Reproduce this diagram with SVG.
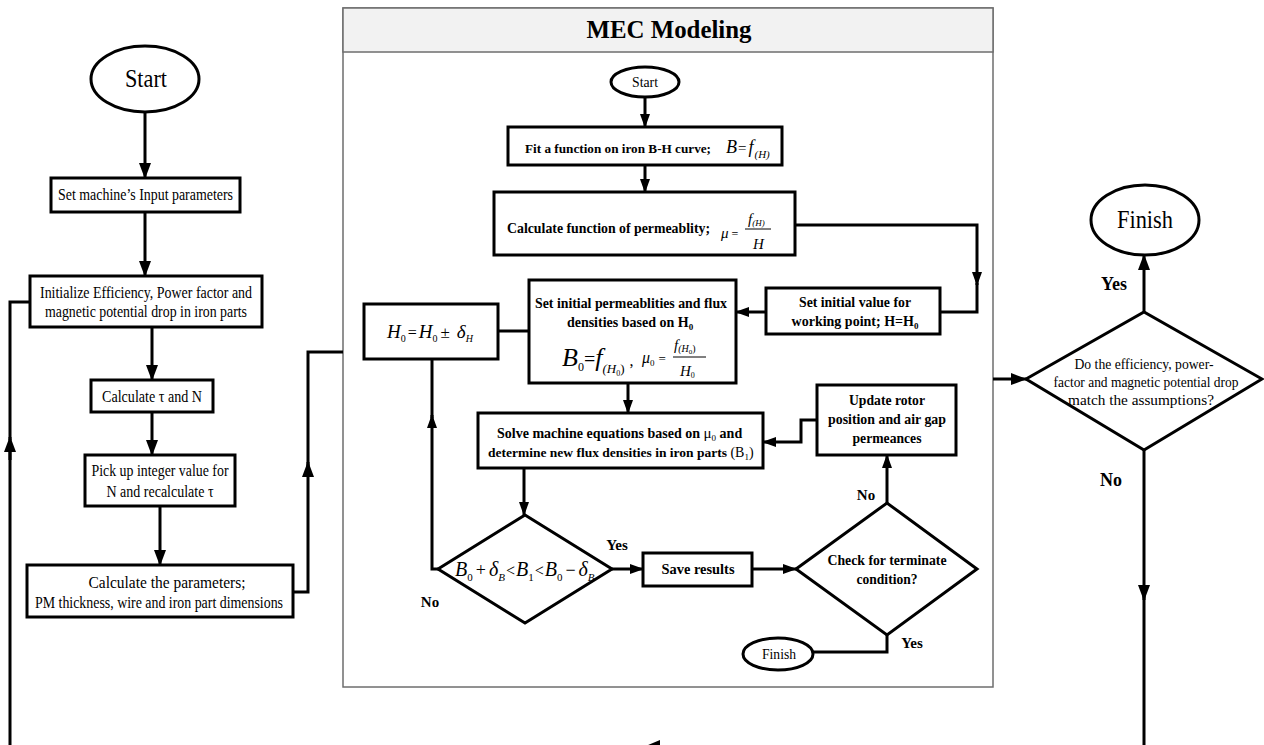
<svg xmlns="http://www.w3.org/2000/svg" width="1264" height="745" viewBox="0 0 1264 745">
<style>
.box{fill:#fff;stroke:#000;stroke-width:3}
.ln{fill:none;stroke:#000;stroke-width:3}
.ar{fill:none;stroke:#000;stroke-width:3;marker-end:url(#ah)}
.as{fill:none;stroke:#000;stroke-width:3;marker-end:url(#ahs)}
.t{font-family:"Liberation Serif","Times New Roman",serif;fill:#000}
.c{text-anchor:middle}
.b{font-weight:bold}
.i{font-style:italic}
.n{font-style:normal;font-weight:normal}
.frac{stroke:#000;stroke-width:1}
</style>
<defs>
<marker id="ah" viewBox="0 0 16 12" refX="15" refY="6" markerWidth="16" markerHeight="12" markerUnits="userSpaceOnUse" orient="auto"><path d="M0,0 L16,6 L0,12 z" fill="#000"/></marker>
<marker id="ahs" viewBox="0 0 14 10" refX="13" refY="5" markerWidth="14" markerHeight="10" markerUnits="userSpaceOnUse" orient="auto"><path d="M0,0 L14,5 L0,10 z" fill="#000"/></marker>
</defs>
<rect width="1264" height="745" fill="#fff"/>

<g id="mec-frame">
<rect x="343" y="8" width="650" height="679" fill="#fff" stroke="#6e6e6e" stroke-width="1.5"/>
<rect x="343" y="8" width="650" height="44" fill="#f2f2f2" stroke="#6e6e6e" stroke-width="1.5"/>
<text class="t b c" x="669" y="38" font-size="25" textLength="165" lengthAdjust="spacingAndGlyphs">MEC Modeling</text>
</g>

<g id="connectors">
<path class="ar" d="M145,112 V178"/>
<path class="ar" d="M145,212 V276"/>
<path class="ar" d="M152,327 V380"/>
<path class="ar" d="M152,412 V455"/>
<path class="ar" d="M160,506 V565"/>
<path class="ar" d="M293,592 H308 V462"/>
<path class="ln" d="M308,466 V352 H343"/>
<path class="ar" d="M1144,450 V600"/>
<path class="ln" d="M1144,596 V748 H655"/>
<polygon points="641,748 660,740 660,756" fill="#000"/>
<path class="ln" d="M655,748 H10 V445"/>
<path class="ar" d="M10,460 V437"/>
<path class="ln" d="M10,440 V302 H30"/>
<path class="ar" d="M993,379 H1026"/>
<path class="ar" d="M1144,312 V255"/>

<path class="as" d="M645,97 V127"/>
<path class="as" d="M645,165 V192"/>
<path class="as" d="M795,225 H977 V285"/>
<path class="ln" d="M977,283 V312 H940"/>
<path class="as" d="M766,312 H736"/>
<path class="ln" d="M498,331 H529"/>
<path class="as" d="M628,383 V413"/>
<path class="as" d="M524,468 V515"/>
<path class="as" d="M612,569 H643"/>
<path class="as" d="M752,569 H796"/>
<path class="as" d="M887,503 V455"/>
<path class="as" d="M817,420 H801 V442 H763"/>
<path class="ln" d="M887,635 V652 H813"/>
<path class="as" d="M438,569 H432 V415"/>
<path class="ln" d="M432,418 V359"/>
</g>

<g id="start-main">
<ellipse class="box" cx="145" cy="79" rx="54" ry="33"/>
<text class="t c" x="146" y="87" font-size="25" textLength="42" lengthAdjust="spacingAndGlyphs">Start</text>
</g>
<g id="set-input">
<rect class="box" x="51" y="178" width="189" height="34"/>
<text class="t c" x="145.5" y="200" font-size="16" textLength="175" lengthAdjust="spacingAndGlyphs">Set machine’s Input parameters</text>
</g>
<g id="initialize">
<rect class="box" x="30" y="276" width="232" height="51"/>
<text class="t c" x="146" y="298" font-size="16" textLength="212" lengthAdjust="spacingAndGlyphs">Initialize Efficiency, Power factor and</text>
<text class="t c" x="146" y="317" font-size="16" textLength="202" lengthAdjust="spacingAndGlyphs">magnetic potential drop in iron parts</text>
</g>
<g id="calc-tau">
<rect class="box" x="91" y="380" width="122" height="32"/>
<text class="t c" x="152" y="402" font-size="16" textLength="100" lengthAdjust="spacingAndGlyphs">Calculate τ and N</text>
</g>
<g id="pick-n">
<rect class="box" x="85" y="455" width="150" height="51"/>
<text class="t c" x="160" y="476" font-size="16" textLength="137" lengthAdjust="spacingAndGlyphs">Pick up integer value for</text>
<text class="t c" x="160" y="497" font-size="16" textLength="107" lengthAdjust="spacingAndGlyphs">N and recalculate τ</text>
</g>
<g id="calc-params">
<rect class="box" x="27" y="565" width="266" height="52"/>
<text class="t c" x="167" y="588" font-size="16" textLength="157" lengthAdjust="spacingAndGlyphs">Calculate the parameters;</text>
<text class="t c" x="159" y="608" font-size="16" textLength="248" lengthAdjust="spacingAndGlyphs">PM thickness, wire and iron part dimensions</text>
</g>

<g id="mec-start">
<ellipse class="box" cx="645" cy="82" rx="34" ry="15"/>
<text class="t c" x="645" y="87" font-size="15" textLength="26" lengthAdjust="spacingAndGlyphs">Start</text>
</g>
<g id="fit">
<rect class="box" x="508" y="127" width="274" height="38"/>
<text class="t b" x="525" y="153" font-size="13.5" textLength="186" lengthAdjust="spacingAndGlyphs">Fit a function on iron B-H curve;</text>
<text class="t i" x="726" y="153" font-size="18"><tspan>B</tspan><tspan class="n" font-size="15" dx="1">=</tspan><tspan dx="2">f</tspan><tspan font-size="11" dy="5" dx="1">(H)</tspan></text>
</g>
<g id="calc-func">
<rect class="box" x="494" y="192" width="301" height="63"/>
<text class="t b" x="507" y="233" font-size="14" textLength="203" lengthAdjust="spacingAndGlyphs">Calculate function of permeablity;</text>
<text class="t i" x="721" y="238" font-size="15">μ<tspan class="n" font-size="12" dx="3">=</tspan></text>
<text class="t i" x="748" y="224" font-size="15">f<tspan font-size="9" dy="2">(H)</tspan></text>
<text class="t i" x="753" y="249" font-size="15">H</text>
<line class="frac" x1="745" y1="229" x2="771" y2="229"/>
</g>
<g id="set-value">
<rect class="box" x="766" y="288" width="174" height="46"/>
<text class="t b c" x="855" y="307" font-size="15" textLength="112" lengthAdjust="spacingAndGlyphs">Set initial value for</text>
<text class="t b c" x="855" y="326" font-size="14">working point; H=H<tspan font-size="9" dy="3">0</tspan></text>
</g>
<g id="set-perm">
<rect class="box" x="529" y="280" width="207" height="103"/>
<text class="t b c" x="631" y="308" font-size="15" textLength="192" lengthAdjust="spacingAndGlyphs">Set initial permeablities and flux</text>
<text class="t b c" x="630" y="327" font-size="14">densities based on H<tspan font-size="9" dy="3">0</tspan></text>
<text class="t i" x="562" y="366" font-size="26"><tspan>B</tspan><tspan class="n" font-size="12" dy="5">0</tspan><tspan class="n" font-size="20" dy="-5">=</tspan><tspan>f</tspan><tspan font-size="13" dy="7">(H</tspan><tspan class="n" font-size="8" dy="3">0</tspan><tspan class="n" font-size="13" dy="-3">)</tspan><tspan class="n" font-size="16" dy="-7" dx="5">,</tspan></text>
<text class="t i" x="642" y="363" font-size="16"><tspan>μ</tspan><tspan class="n" font-size="9" dy="3">0</tspan><tspan class="n" font-size="13" dy="-3" dx="4">=</tspan></text>
<text class="t i" x="674" y="350" font-size="15"><tspan>f</tspan><tspan font-size="10" dy="2">(H</tspan><tspan class="n" font-size="7" dy="2">0</tspan><tspan class="n" font-size="10" dy="-2">)</tspan></text>
<text class="t i" x="680" y="376" font-size="15"><tspan>H</tspan><tspan class="n" font-size="8" dy="2">0</tspan></text>
<line class="frac" x1="673" y1="357" x2="706" y2="357"/>
</g>
<g id="h0-update">
<rect class="box" x="364" y="304" width="134" height="55"/>
<text class="t i" x="387" y="338" font-size="19"><tspan>H</tspan><tspan class="n" font-size="10" dy="4">0</tspan><tspan class="n" font-size="16" dy="-4" dx="2">=</tspan><tspan dx="2">H</tspan><tspan class="n" font-size="10" dy="4">0</tspan><tspan class="n" font-size="17" dy="-4" dx="3">±</tspan><tspan dx="7">δ</tspan><tspan font-size="10" dy="4">H</tspan></text>
</g>
<g id="solve">
<rect class="box" x="478" y="413" width="285" height="55"/>
<text class="t b" x="497" y="438" font-size="14">Solve machine equations based on <tspan class="n i" font-size="15">μ</tspan><tspan class="n" font-size="9" dy="3">0</tspan><tspan dy="-3"> and</tspan></text>
<text class="t b" x="488" y="457" font-size="13.5">determine new flux densities in iron parts <tspan class="n" font-size="14">(B</tspan><tspan class="n" font-size="9" dy="3">1</tspan><tspan class="n" font-size="14" dy="-3">)</tspan></text>
</g>
<g id="update-rotor">
<rect class="box" x="817" y="385" width="139" height="70"/>
<text class="t b c" x="887" y="405" font-size="15" textLength="76" lengthAdjust="spacingAndGlyphs">Update rotor</text>
<text class="t b c" x="887" y="424" font-size="15" textLength="118" lengthAdjust="spacingAndGlyphs">position and air gap</text>
<text class="t b c" x="887" y="443" font-size="15" textLength="69" lengthAdjust="spacingAndGlyphs">permeances</text>
</g>
<g id="check-b">
<polygon class="box" points="438,569 525,515 612,569 525,623"/>
<text class="t i" x="455" y="576" font-size="20"><tspan>B</tspan><tspan class="n" font-size="11" dy="5">0</tspan><tspan class="n" font-size="18" dy="-5" dx="3">+</tspan><tspan dx="3">δ</tspan><tspan font-size="11" dy="5">B</tspan><tspan class="n" font-size="16" dy="-5" dx="1">&lt;</tspan><tspan dx="1">B</tspan><tspan class="n" font-size="11" dy="5">1</tspan><tspan class="n" font-size="16" dy="-5" dx="1">&lt;</tspan><tspan dx="1">B</tspan><tspan class="n" font-size="11" dy="5">0</tspan><tspan class="n" font-size="18" dy="-5" dx="3">−</tspan><tspan dx="3">δ</tspan><tspan font-size="11" dy="5">B</tspan></text>
</g>
<g id="save">
<rect class="box" x="643" y="553" width="109" height="33"/>
<text class="t b c" x="698" y="574" font-size="15" textLength="73" lengthAdjust="spacingAndGlyphs">Save results</text>
</g>
<g id="check-term">
<polygon class="box" points="796,569 887,503 977,569 887,635"/>
<text class="t b c" x="887" y="565" font-size="15" textLength="119" lengthAdjust="spacingAndGlyphs">Check for terminate</text>
<text class="t b c" x="887" y="584" font-size="15" textLength="61" lengthAdjust="spacingAndGlyphs">condition?</text>
</g>
<g id="mec-finish">
<ellipse class="box" cx="778" cy="654" rx="35" ry="16"/>
<text class="t c" x="779" y="659" font-size="15" textLength="34" lengthAdjust="spacingAndGlyphs">Finish</text>
</g>
<g id="check-assumptions">
<polygon class="box" points="1026,379 1144,312 1262,379 1144,450"/>
<text class="t c" x="1144" y="369" font-size="15" textLength="139" lengthAdjust="spacingAndGlyphs">Do the efficiency, power-</text>
<text class="t c" x="1146" y="387" font-size="15" textLength="185" lengthAdjust="spacingAndGlyphs">factor and magnetic potential drop</text>
<text class="t c" x="1141" y="405" font-size="15" textLength="146" lengthAdjust="spacingAndGlyphs">match the assumptions?</text>
</g>
<g id="finish-main">
<ellipse class="box" cx="1145" cy="220" rx="54" ry="35"/>
<text class="t c" x="1145" y="228" font-size="25" textLength="56" lengthAdjust="spacingAndGlyphs">Finish</text>
</g>

<g id="labels">
<text class="t b c" x="617" y="550" font-size="15">Yes</text>
<text class="t b c" x="430" y="607" font-size="15">No</text>
<text class="t b c" x="866" y="500" font-size="15">No</text>
<text class="t b c" x="912" y="648" font-size="15">Yes</text>
<text class="t b c" x="1114" y="290" font-size="18">Yes</text>
<text class="t b c" x="1111" y="486" font-size="18">No</text>
</g>
</svg>
